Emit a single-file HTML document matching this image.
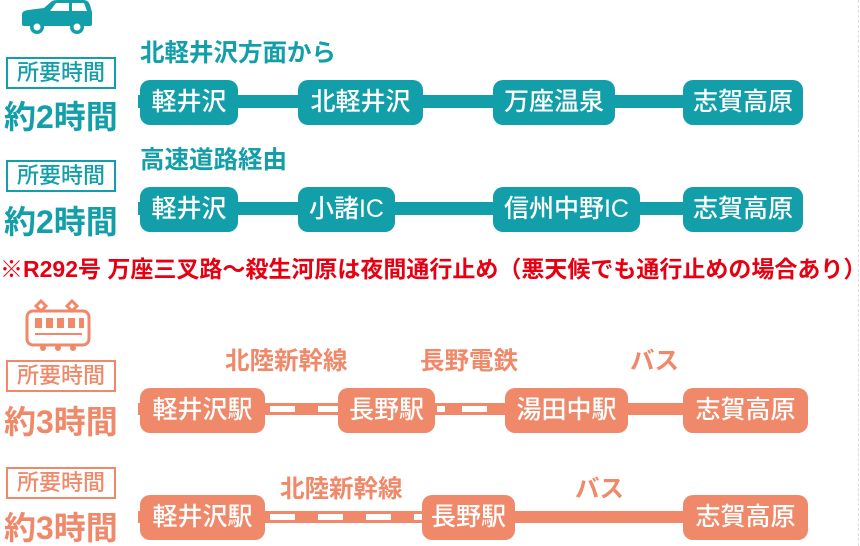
<!DOCTYPE html>
<html><head><meta charset="utf-8"><style>
body{margin:0;width:860px;height:546px;background:#fff;position:relative;overflow:hidden;font-family:"Liberation Sans","Noto Sans CJK JP",sans-serif}
div{position:absolute;box-sizing:border-box}
.t{color:#129fa9}.o{color:#ef896a}
.box{width:110px;height:32px;border:2px solid;font-size:22px;text-align:center;line-height:27px;left:6px;font-weight:500;white-space:nowrap}
.big{font-size:32px;font-weight:bold;left:4px;line-height:36px;white-space:nowrap}
.n{height:45px;border-radius:10px;color:#fff;font-size:25px;text-align:center;line-height:44px;white-space:nowrap;font-weight:500}
.nt{background:#129fa9}.no{background:#ef896a}
.lt{background:#129fa9;height:13px}.lo{background:#ef896a;height:12px}
.lab{font-size:24.5px;line-height:26px;white-space:nowrap;font-weight:bold}
.d{background:#fff;height:6px;width:25px}
</style></head><body>
<svg style="position:absolute;left:20px;top:0" width="74" height="36" viewBox="0 0 74 36"><path d="M2 14 Q2 11 8 10 L24 8 L32 1 Q34 0 38 0 L64 0 Q68 0 70 5 L72 12 L72 24 Q72 26 70 26 L4 26 Q2 26 2 24 Z" fill="#129fa9"/><path d="M36 3 L49 3 L49 11 L30 11 Z M52 3 L64 3 L67 11 L52 11 Z" fill="#fff"/><circle cx="17" cy="27" r="7" fill="#129fa9"/><circle cx="17" cy="27" r="3.5" fill="#fff"/><circle cx="57" cy="27" r="7" fill="#129fa9"/><circle cx="57" cy="27" r="3.5" fill="#fff"/></svg>
<div class="box t" style="top:57px">所要時間</div>
<div class="big t" style="top:99px">約2時間</div>
<div class="lab t" style="left:140px;top:41px">北軽井沢方面から</div>
<div class="lt" style="left:138px;top:95px;width:665px"></div>
<div class="n nt" style="left:140px;top:80px;width:98px">軽井沢</div>
<div class="n nt" style="left:298px;top:80px;width:125px">北軽井沢</div>
<div class="n nt" style="left:493px;top:80px;width:122px">万座温泉</div>
<div class="n nt" style="left:683px;top:80px;width:120px">志賀高原</div>
<div class="box t" style="top:160px">所要時間</div>
<div class="big t" style="top:204px">約2時間</div>
<div class="lab t" style="left:140px;top:148px">高速道路経由</div>
<div class="lt" style="left:138px;top:202px;width:665px"></div>
<div class="n nt" style="left:140px;top:187px;width:98px">軽井沢</div>
<div class="n nt" style="left:298px;top:187px;width:97px">小諸IC</div>
<div class="n nt" style="left:493px;top:187px;width:147px">信州中野IC</div>
<div class="n nt" style="left:683px;top:187px;width:120px">志賀高原</div>
<div class="lab" style="left:0;top:256px;color:#e60012;font-size:23px;font-weight:bold">※R292号 万座三叉路～殺生河原は夜間通行止め（悪天候でも通行止めの場合あり）</div>
<svg style="position:absolute;left:25px;top:298px" width="68" height="54" viewBox="0 0 68 54"><g fill="none" stroke="#ef896a" stroke-width="3"><path d="M16 3 l5 5 -5 5 -5 -5z M47 3 l5 5 -5 5 -5 -5z"/><rect x="2" y="13" width="62" height="34" rx="6"/></g><g fill="#ef896a"><rect x="10" y="20" width="7" height="10"/><rect x="21" y="20" width="7" height="10"/><rect x="32" y="20" width="7" height="10"/><rect x="43" y="20" width="7" height="10"/><rect x="54" y="20" width="5" height="10"/><rect x="10" y="35" width="47" height="2"/><circle cx="18" cy="50" r="3"/><circle cx="33" cy="50" r="3"/><circle cx="48" cy="50" r="3"/></g></svg>
<div class="box o" style="top:360px">所要時間</div>
<div class="big o" style="top:404px">約3時間</div>
<div class="lab o" style="left:225px;top:349px">北陸新幹線</div>
<div class="lab o" style="left:420px;top:349px">長野電鉄</div>
<div class="lab o" style="left:630px;top:349px">バス</div>
<div class="lo" style="left:138px;top:403px;width:665px"></div>
<div class="d" style="left:270px;top:406px"></div><div class="d" style="left:318px;top:406px"></div>
<div class="d" style="left:437px;top:406px;width:8px"></div><div class="d" style="left:462px;top:406px"></div>
<div class="n no" style="left:140px;top:388px;width:125px">軽井沢駅</div>
<div class="n no" style="left:338px;top:388px;width:97px">長野駅</div>
<div class="n no" style="left:505px;top:388px;width:123px">湯田中駅</div>
<div class="n no" style="left:683px;top:388px;width:125px">志賀高原</div>
<div class="box o" style="top:467px">所要時間</div>
<div class="big o" style="top:510px">約3時間</div>
<div class="lab o" style="left:280px;top:477px">北陸新幹線</div>
<div class="lab o" style="left:575px;top:477px">バス</div>
<div class="lo" style="left:138px;top:511px;width:665px"></div>
<div class="d" style="left:270px;top:514px"></div><div class="d" style="left:318px;top:514px"></div><div class="d" style="left:366px;top:514px"></div><div class="d" style="left:414px;top:514px;width:8px"></div>
<div class="n no" style="left:140px;top:495px;width:125px">軽井沢駅</div>
<div class="n no" style="left:422px;top:495px;width:93px">長野駅</div>
<div class="n no" style="left:683px;top:495px;width:125px">志賀高原</div>
<div style="left:858px;top:0;width:1px;height:546px;border-left:1px dashed #ddd"></div>
</body></html>
